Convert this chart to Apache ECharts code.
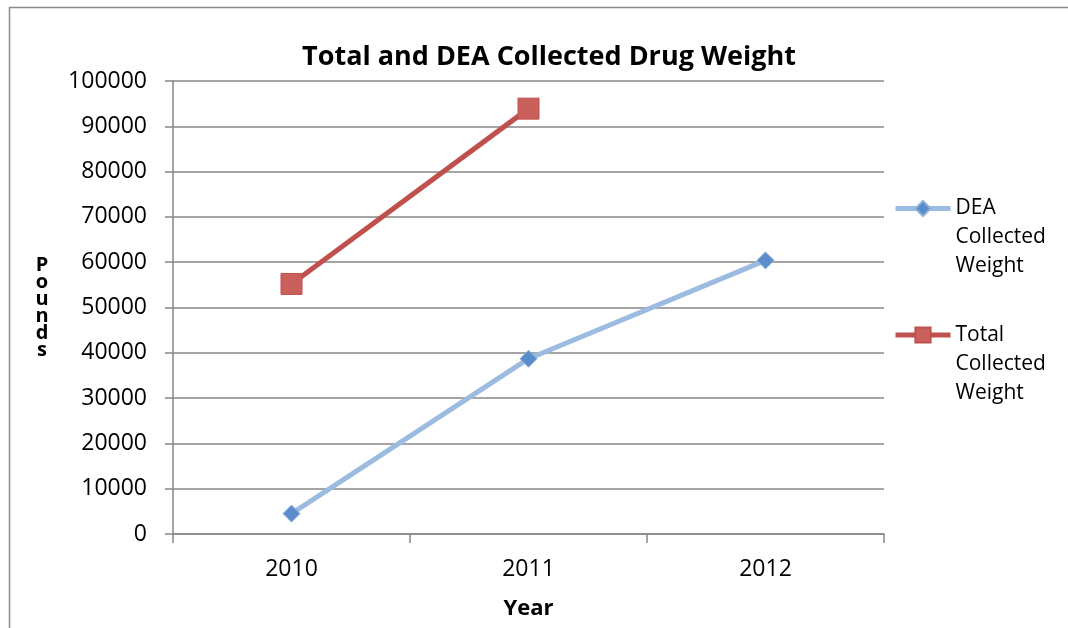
<!DOCTYPE html>
<html>
<head>
<meta charset="utf-8">
<script src="https://cdn.jsdelivr.net/npm/echarts@6/dist/echarts.min.js"></script>
<style>
  html, body { margin: 0; padding: 0; background: #fff; }
  #chart { width: 1068px; height: 628px; }
</style>
</head>
<body>
<div id="chart"></div>
<script>
const years = ["2010", "2011", "2012"];
const deaWeight = [4500, 38700, 60400];
const totalWeight = [55200, 93900];
const yTicks = { min: 0, max: 100000, step: 10000 };

const FONT = "Open Sans";
const chart = echarts.init(document.getElementById("chart"));

// blank lines on top keep the legend icon level with the first text line
const legendBase = {
  orient: "vertical", left: 893, padding: 0,
  itemWidth: 55, itemHeight: 19,
  lineStyle: { width: 5 },
  textStyle: { fontFamily: FONT, fontSize: 21, lineHeight: 29, color: "#000" }
};

chart.setOption({
  animation: false,
  backgroundColor: "#fff",
  textStyle: { fontFamily: FONT, color: "#000" },
  title: {
    text: "Total and DEA Collected Drug Weight",
    left: 544, top: 39,
    textAlign: "center",
    textStyle: { fontFamily: FONT, fontSize: 27, fontWeight: "bold", color: "#000" }
  },
  graphic: [{
    type: "polyline",
    shape: { points: [[9.5, 640], [9.5, 7.5], [1080, 7.5]] },
    style: { fill: "none", stroke: "#8c8c8c", lineWidth: 1.5 },
    silent: true
  }],
  grid: { left: 173, right: 184, top: 81, bottom: 94 },
  legend: [
    Object.assign({}, legendBase, {
      data: ["DEA Collected Weight"],
      top: 136,
      formatter: () => "\n\nDEA\nCollected\nWeight"
    }),
    Object.assign({}, legendBase, {
      data: ["Total Collected Weight"],
      top: 262.5,
      formatter: () => "\n\nTotal\nCollected\nWeight"
    })
  ],
  xAxis: {
    type: "category",
    data: years,
    boundaryGap: true,
    name: "Year",
    nameLocation: "middle",
    nameGap: 64,
    nameTextStyle: { fontFamily: FONT, fontSize: 22, fontWeight: "bold", color: "#000" },
    axisLine: { lineStyle: { color: "#868686", width: 1.5 } },
    axisTick: { show: true, length: 9, lineStyle: { color: "#868686", width: 1.5 } },
    axisLabel: { fontFamily: FONT, fontSize: 23, color: "#000", margin: 24 },
    splitLine: { show: false }
  },
  yAxis: {
    type: "value",
    min: yTicks.min, max: yTicks.max, interval: yTicks.step,
    name: "P\no\nu\nn\nd\ns",
    nameLocation: "middle",
    nameRotate: 0,
    nameGap: 131,
    nameTextStyle: { fontFamily: FONT, fontSize: 20, fontWeight: "bold", color: "#000", lineHeight: 17, align: "center" },
    axisLine: { show: true, lineStyle: { color: "#868686", width: 1.5 } },
    axisTick: { show: true, length: 8, lineStyle: { color: "#868686", width: 1.5 } },
    axisLabel: { fontFamily: FONT, fontSize: 23, color: "#000", margin: 26, formatter: (v) => String(v) },
    splitLine: { show: true, lineStyle: { color: "#878787", width: 1.5 } }
  },
  series: [
    {
      name: "DEA Collected Weight",
      type: "line",
      data: deaWeight,
      symbol: "diamond",
      symbolSize: 17,
      lineStyle: { color: "#9bbbe0", width: 5 },
      itemStyle: { color: "#5a8dcb", borderColor: "#8fb2db", borderWidth: 1 }
    },
    {
      name: "Total Collected Weight",
      type: "line",
      data: totalWeight,
      symbol: "rect",
      symbolSize: 21,
      lineStyle: { color: "#c0504d", width: 5 },
      itemStyle: { color: "#c9605c", borderColor: "#c0504d", borderWidth: 1 }
    }
  ]
});
</script>
</body>
</html>
